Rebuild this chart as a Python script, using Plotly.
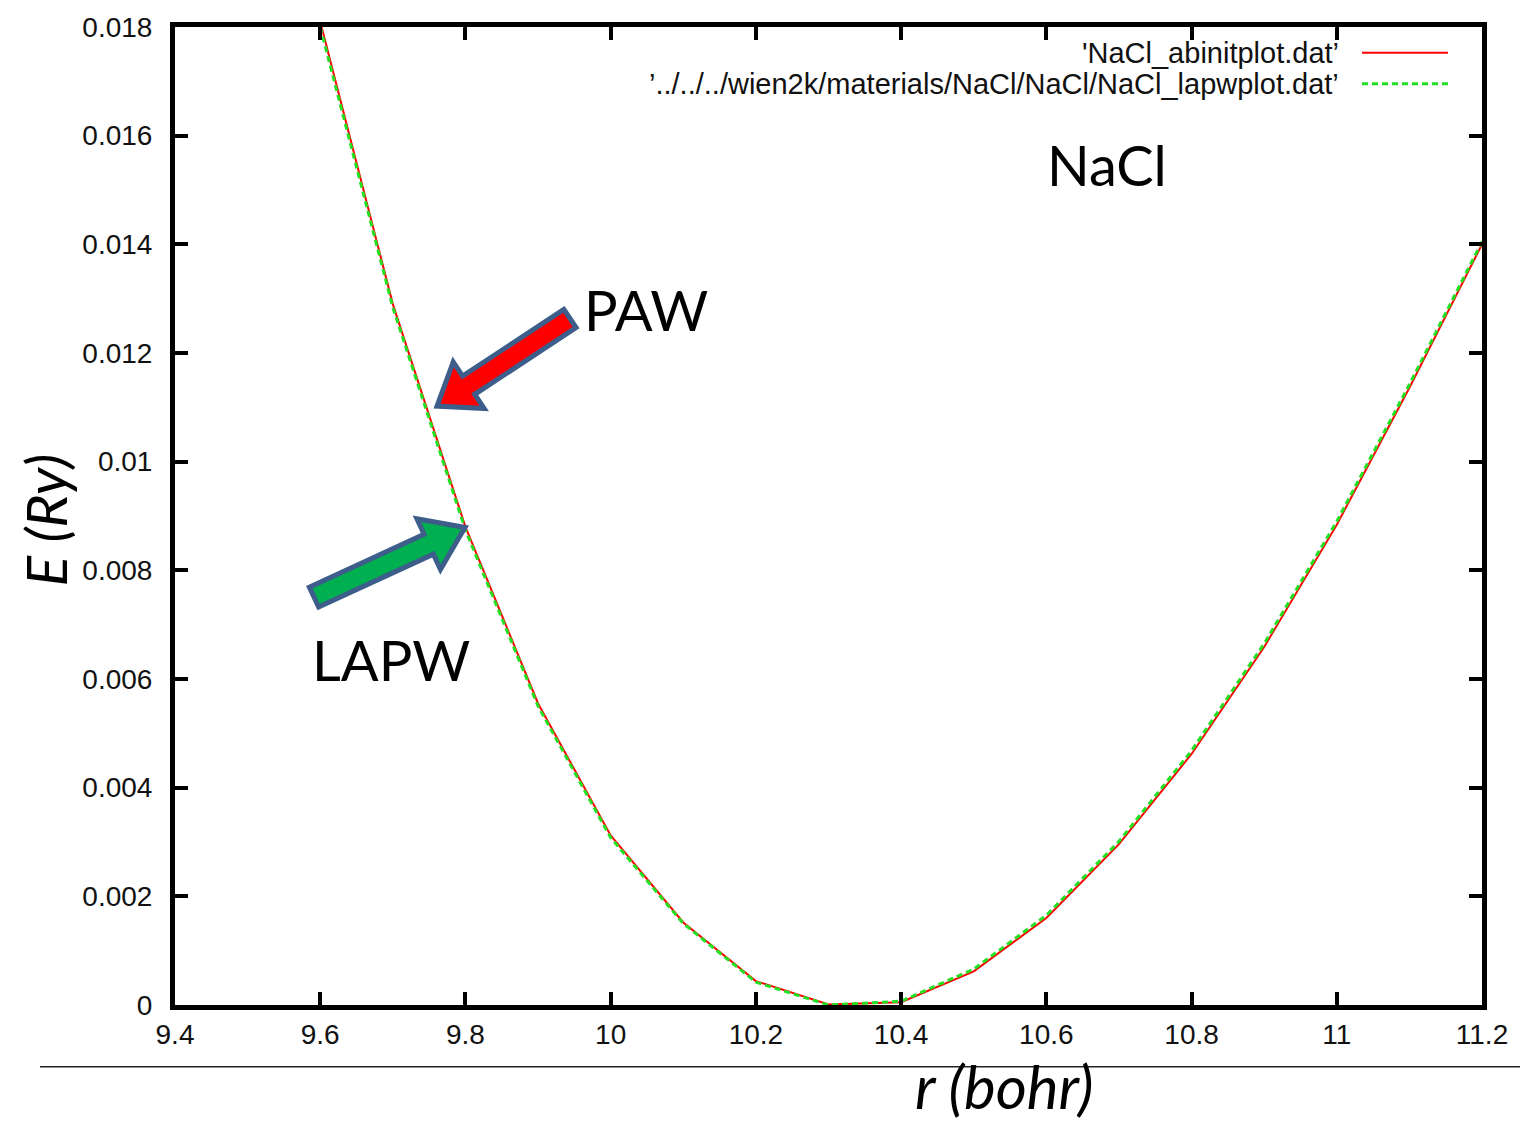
import numpy as np
import plotly.graph_objects as go

# ---- data ----
r_bohr = [9.6, 9.7, 9.8, 9.9, 10.0, 10.1, 10.2, 10.3, 10.4, 10.5, 10.6, 10.7, 10.8, 10.9, 11.0, 11.1, 11.2]
E_paw = [0.01810, 0.01290, 0.00880, 0.00555, 0.00312, 0.00152, 0.00044, 0.00001, 0.00005, 0.00062,
         0.00160, 0.00296, 0.00462, 0.00659, 0.00884, 0.01136, 0.01400]
E_lapw = [0.01800, 0.01284, 0.00874, 0.00550, 0.00308, 0.00150, 0.00042, 0.00000, 0.00007, 0.00066,
          0.00165, 0.00301, 0.00468, 0.00665, 0.00890, 0.01142, 0.01405]
x_ticks = [9.4, 9.6, 9.8, 10.0, 10.2, 10.4, 10.6, 10.8, 11.0, 11.2]
x_ticktext = ["9.4", "9.6", "9.8", "10", "10.2", "10.4", "10.6", "10.8", "11", "11.2"]
y_ticks = [0, 0.002, 0.004, 0.006, 0.008, 0.010, 0.012, 0.014, 0.016, 0.018]
y_ticktext = ["0", "0.002", "0.004", "0.006", "0.008", "0.01", "0.012", "0.014", "0.016", "0.018"]
legend_labels = ["'NaCl_abinitplot.dat’", "’../../../wien2k/materials/NaCl/NaCl/NaCl_lapwplot.dat’"]

W, H = 1524, 1123
L, R, T, B = 175, 1482, 22, 1005  # plot area in pixels


def px(x):
    return (x - L) / (R - L)


def py(y):
    return (B - y) / (B - T)


fig = go.Figure()
fig.add_trace(go.Scatter(x=r_bohr, y=E_paw, mode="lines", name=legend_labels[0],
                         line=dict(color="#ff0000", width=2), showlegend=False))
fig.add_trace(go.Scatter(x=r_bohr, y=E_lapw, mode="lines", name=legend_labels[1],
                         line=dict(color="#22e022", width=3, dash="6px,4px"), showlegend=False))

tickfont = dict(family="Liberation Sans, Arial", size=28, color="#111")
fig.update_xaxes(range=[9.4, 11.2], tickvals=x_ticks, ticktext=x_ticktext, ticks="inside",
                 ticklen=13, tickwidth=4, tickcolor="black", showline=True, linewidth=5,
                 linecolor="black", mirror="ticks", showgrid=False, zeroline=False,
                 tickfont=tickfont)
fig.update_yaxes(range=[0, 0.018], tickvals=y_ticks, ticktext=y_ticktext, ticks="inside",
                 ticklen=13, tickwidth=4, tickcolor="black", showline=True, linewidth=5,
                 linecolor="black", mirror="ticks", showgrid=False, zeroline=False,
                 tickfont=tickfont, ticklabelstandoff=12)


def block_arrow(tip, tail, shaft_w, head_w, head_len):
    tip = np.array(tip, float)
    tail = np.array(tail, float)
    d = tip - tail
    d = d / np.linalg.norm(d)
    n = np.array([-d[1], d[0]])
    base = tip - d * head_len
    pts = [tail + n * shaft_w / 2, base + n * shaft_w / 2, base + n * head_w / 2, tip,
           base - n * head_w / 2, base - n * shaft_w / 2, tail - n * shaft_w / 2]
    return "M " + " L ".join(f"{px(p[0]):.5f},{py(p[1]):.5f}" for p in pts) + " Z"


shapes = [
    dict(type="path", xref="paper", yref="paper",
         path=block_arrow((437, 403), (570, 315), 22, 56, 38),
         fillcolor="#ff0000", line=dict(color="#3d5d8a", width=5)),
    dict(type="path", xref="paper", yref="paper",
         path=block_arrow((465, 525), (314, 595), 22, 56, 40),
         fillcolor="#00b050", line=dict(color="#3d5d8a", width=5)),
    # legend samples
    dict(type="line", xref="paper", yref="paper", x0=px(1362), x1=px(1448), y0=py(48), y1=py(48),
         line=dict(color="#ff0000", width=2)),
    dict(type="line", xref="paper", yref="paper", x0=px(1362), x1=px(1448), y0=py(79), y1=py(79),
         line=dict(color="#22e022", width=3, dash="6px,4px")),
    # separator line under the axis
    dict(type="line", xref="paper", yref="paper", x0=px(40), x1=px(1520), y0=py(1067), y1=py(1067),
         line=dict(color="#222", width=1.5)),
]

big = "Lato, Open Sans, sans-serif"
legfont = dict(family="Liberation Sans, Arial", size=29, color="#111")
annotations = [
    dict(text=legend_labels[0], x=px(1341), y=py(48), xanchor="right", yanchor="middle", font=legfont),
    dict(text=legend_labels[1], x=px(1341), y=py(79), xanchor="right", yanchor="middle", font=legfont),
    dict(text="NaCl", x=px(1107), y=py(160), xanchor="center", yanchor="middle",
         font=dict(family=big, size=56, color="black")),
    dict(text="PAW", x=px(646), y=py(306), xanchor="center", yanchor="middle",
         font=dict(family=big, size=56, color="black")),
    dict(text="LAPW", x=px(391), y=py(658), xanchor="center", yanchor="middle",
         font=dict(family=big, size=56, color="black")),
    dict(text="<i>E (Ry)</i>", x=px(45), y=py(518), xanchor="center", yanchor="middle",
         textangle=-90, font=dict(family=big, size=57, color="black")),
    dict(text="<i>r (bohr)</i>", x=px(1004), y=py(1086), xanchor="center", yanchor="middle",
         font=dict(family=big, size=60, color="black")),
]
for a in annotations:
    a.update(xref="paper", yref="paper", showarrow=False)

fig.update_layout(width=W, height=H, margin=dict(l=L, r=W - R, t=T, b=H - B),
                  paper_bgcolor="white", plot_bgcolor="white",
                  shapes=shapes, annotations=annotations)

fig.write_html("out.html")
